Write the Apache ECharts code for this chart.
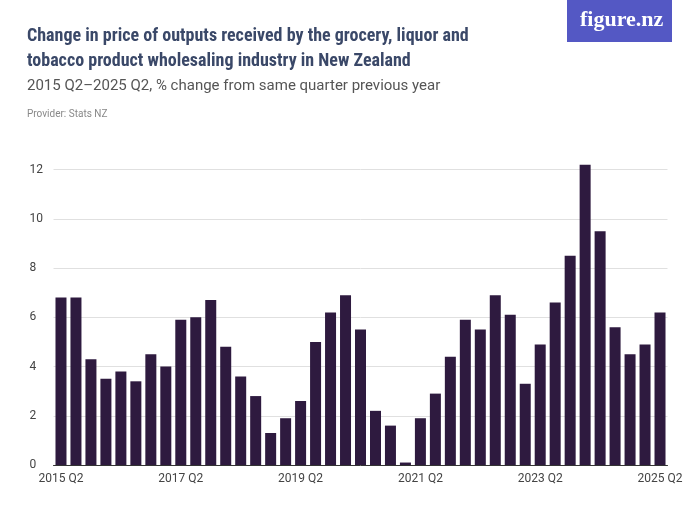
<!DOCTYPE html>
<html><head><meta charset="utf-8">
<script src="https://cdn.jsdelivr.net/npm/echarts@6/dist/echarts.min.js"></script>
<style>body{margin:0;background:#fff}#c{width:700px;height:525px}</style>
</head><body><div id="c"></div>
<script>
const startYear = 2015;
const quarters = [];
for (let i = 0; i < 41; i++) {
  const q = (1 + i) % 4 + 1, y = startYear + Math.floor((1 + i) / 4);
  quarters.push(y + ' Q' + q);
}
const values = [6.8, 6.8, 4.3, 3.5, 3.8, 3.4, 4.5, 4.0, 5.9, 6.0, 6.7, 4.8, 3.6, 2.8, 1.3, 1.9,
  2.6, 5.0, 6.2, 6.9, 5.5, 2.2, 1.6, 0.1, 1.9, 2.9, 4.4, 5.9, 5.5, 6.9, 6.1, 3.3,
  4.9, 6.6, 8.5, 12.2, 9.5, 5.6, 4.5, 4.9, 6.2];

const chart = echarts.init(document.getElementById('c'));
chart.setOption({
  animation: false,
  graphic: [
    { type: 'text', left: 27, top: 24, style: { text: 'Change in price of outputs received by the grocery, liquor and\ntobacco product wholesaling industry in New Zealand', font: 'bold 18px "Roboto Condensed", Roboto, sans-serif', fill: '#3a4868', lineHeight: 25 } },
    { type: 'text', left: 27, top: 79, style: { text: '2015 Q2–2025 Q2, % change from same quarter previous year', font: '15px Roboto, sans-serif', fill: '#555', } },
    { type: 'text', left: 27, top: 109, style: { text: 'Provider: Stats NZ', font: '10px Roboto, sans-serif', fill: '#888' } },
    { type: 'rect', left: 567, top: 0, shape: { width: 105, height: 42 }, style: { fill: '#5458c4' } },
    { type: 'text', left: 580, top: 9, style: { text: 'figure.nz', font: 'bold 22px "Liberation Serif", serif', fill: '#fff' } }
  ],
  grid: { left: 53.5, right: 32.5, top: 145, bottom: 60 },
  xAxis: {
    type: 'category', data: quarters,
    axisLine: { lineStyle: { color: '#333' } },
    axisTick: { alignWithLabel: true, interval: (i) => i % 8 === 0, lineStyle: { color: '#333' } },
    axisLabel: { interval: (i) => i % 8 === 0, color: '#444', fontSize: 12, fontFamily: 'Roboto' }
  },
  yAxis: {
    type: 'value', min: 0, max: 13, interval: 2,
    axisLabel: { color: '#444', fontSize: 12, fontFamily: 'Roboto', showMaxLabel: false, margin: 24, align: 'left' },
    splitLine: { showMaxLine: false, lineStyle: { color: '#e0e0e0' } }
  },
  series: [{ type: 'bar', data: values, barWidth: 11, itemStyle: { color: '#2e1a3f' } }]
});
</script></body></html>
